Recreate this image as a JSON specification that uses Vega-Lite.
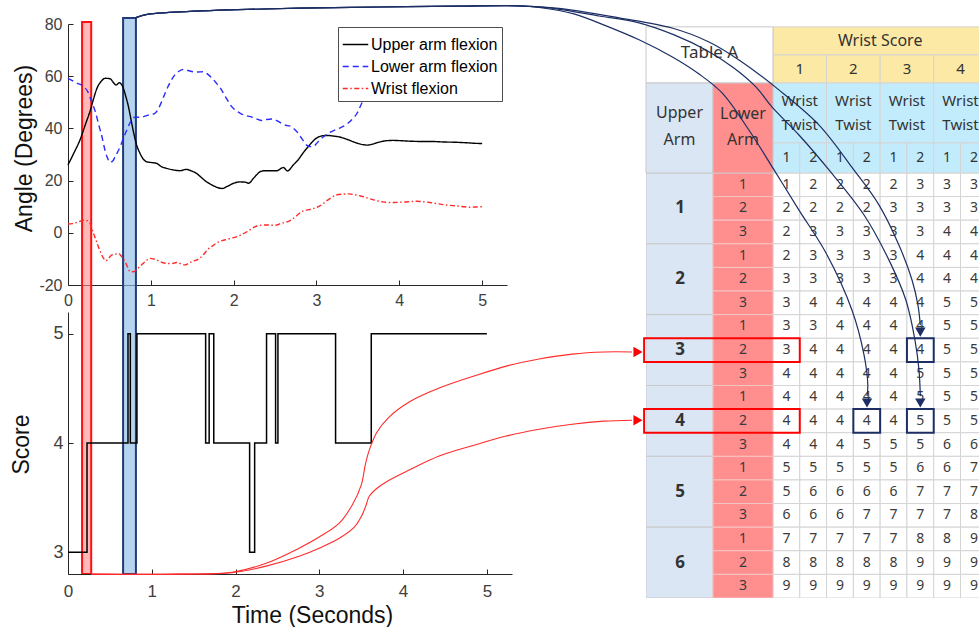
{
  "$schema": "https://vega.github.io/schema/vega-lite/v6.json",
  "background": "#ffffff",
  "padding": {"left": 10, "top": 3, "right": 0, "bottom": 0},
  "config": {
    "view": {"stroke": null},
    "font": "Liberation Sans",
    "axis": {
      "grid": false,
      "labelFont": "Liberation Sans",
      "titleFont": "Liberation Sans",
      "domainColor": "#262626",
      "tickColor": "#262626",
      "labelColor": "#404040",
      "titleColor": "#111111",
      "titleFontWeight": "normal",
      "tickSize": -5,
      "labelFlush": false
    }
  },
  "datasets": {
    "angles": [
      {"s":"Upper arm flexion","t":0,"a":26},{"s":"Upper arm flexion","t":0.07,"a":30.5},{"s":"Upper arm flexion","t":0.145,"a":35.6},{"s":"Upper arm flexion","t":0.21,"a":41.5},{"s":"Upper arm flexion","t":0.27,"a":47},{"s":"Upper arm flexion","t":0.31,"a":51.5},{"s":"Upper arm flexion","t":0.35,"a":55.4},{"s":"Upper arm flexion","t":0.4,"a":58},{"s":"Upper arm flexion","t":0.45,"a":59.2},{"s":"Upper arm flexion","t":0.51,"a":59},{"s":"Upper arm flexion","t":0.55,"a":57.5},{"s":"Upper arm flexion","t":0.58,"a":56.6},{"s":"Upper arm flexion","t":0.62,"a":57.5},{"s":"Upper arm flexion","t":0.66,"a":56},{"s":"Upper arm flexion","t":0.7,"a":52},{"s":"Upper arm flexion","t":0.73,"a":48.3},{"s":"Upper arm flexion","t":0.76,"a":43.5},{"s":"Upper arm flexion","t":0.79,"a":38.7},{"s":"Upper arm flexion","t":0.83,"a":33.5},{"s":"Upper arm flexion","t":0.87,"a":30.4},{"s":"Upper arm flexion","t":0.91,"a":28.2},{"s":"Upper arm flexion","t":0.95,"a":27.2},{"s":"Upper arm flexion","t":1.01,"a":26.9},{"s":"Upper arm flexion","t":1.07,"a":26.6},{"s":"Upper arm flexion","t":1.13,"a":25.3},{"s":"Upper arm flexion","t":1.19,"a":24.7},{"s":"Upper arm flexion","t":1.27,"a":24.1},{"s":"Upper arm flexion","t":1.35,"a":23.8},{"s":"Upper arm flexion","t":1.43,"a":24.3},{"s":"Upper arm flexion","t":1.49,"a":23.7},{"s":"Upper arm flexion","t":1.55,"a":22.8},{"s":"Upper arm flexion","t":1.61,"a":21.2},{"s":"Upper arm flexion","t":1.67,"a":19.6},{"s":"Upper arm flexion","t":1.74,"a":18.3},{"s":"Upper arm flexion","t":1.8,"a":17.4},{"s":"Upper arm flexion","t":1.86,"a":17},{"s":"Upper arm flexion","t":1.93,"a":17.9},{"s":"Upper arm flexion","t":2,"a":19},{"s":"Upper arm flexion","t":2.08,"a":19.5},{"s":"Upper arm flexion","t":2.14,"a":19.4},{"s":"Upper arm flexion","t":2.18,"a":19},{"s":"Upper arm flexion","t":2.24,"a":20.9},{"s":"Upper arm flexion","t":2.28,"a":22.3},{"s":"Upper arm flexion","t":2.32,"a":23.4},{"s":"Upper arm flexion","t":2.38,"a":23.8},{"s":"Upper arm flexion","t":2.44,"a":23.8},{"s":"Upper arm flexion","t":2.52,"a":23.8},{"s":"Upper arm flexion","t":2.6,"a":25},{"s":"Upper arm flexion","t":2.65,"a":23.7},{"s":"Upper arm flexion","t":2.72,"a":26},{"s":"Upper arm flexion","t":2.78,"a":28},{"s":"Upper arm flexion","t":2.82,"a":29.8},{"s":"Upper arm flexion","t":2.86,"a":31.5},{"s":"Upper arm flexion","t":2.9,"a":33},{"s":"Upper arm flexion","t":2.94,"a":34.5},{"s":"Upper arm flexion","t":2.98,"a":35.8},{"s":"Upper arm flexion","t":3.06,"a":37.1},{"s":"Upper arm flexion","t":3.13,"a":37.3},{"s":"Upper arm flexion","t":3.2,"a":37.1},{"s":"Upper arm flexion","t":3.28,"a":36.7},{"s":"Upper arm flexion","t":3.37,"a":35.8},{"s":"Upper arm flexion","t":3.45,"a":34.8},{"s":"Upper arm flexion","t":3.53,"a":34},{"s":"Upper arm flexion","t":3.61,"a":33.6},{"s":"Upper arm flexion","t":3.67,"a":33.9},{"s":"Upper arm flexion","t":3.73,"a":34.5},{"s":"Upper arm flexion","t":3.79,"a":35},{"s":"Upper arm flexion","t":3.85,"a":35.3},{"s":"Upper arm flexion","t":3.93,"a":35.4},{"s":"Upper arm flexion","t":4.01,"a":35.3},{"s":"Upper arm flexion","t":4.13,"a":35.1},{"s":"Upper arm flexion","t":4.25,"a":35},{"s":"Upper arm flexion","t":4.39,"a":35},{"s":"Upper arm flexion","t":4.53,"a":34.8},{"s":"Upper arm flexion","t":4.67,"a":34.7},{"s":"Upper arm flexion","t":4.81,"a":34.5},{"s":"Upper arm flexion","t":4.91,"a":34.3},{"s":"Upper arm flexion","t":5,"a":34.2},
      {"s":"Lower arm flexion","t":0,"a":59.2},{"s":"Lower arm flexion","t":0.1,"a":57.5},{"s":"Lower arm flexion","t":0.2,"a":55.7},{"s":"Lower arm flexion","t":0.24,"a":54},{"s":"Lower arm flexion","t":0.27,"a":51.5},{"s":"Lower arm flexion","t":0.3,"a":49},{"s":"Lower arm flexion","t":0.33,"a":46.4},{"s":"Lower arm flexion","t":0.37,"a":41.5},{"s":"Lower arm flexion","t":0.41,"a":36.8},{"s":"Lower arm flexion","t":0.44,"a":32.5},{"s":"Lower arm flexion","t":0.47,"a":29.2},{"s":"Lower arm flexion","t":0.51,"a":27},{"s":"Lower arm flexion","t":0.54,"a":27.5},{"s":"Lower arm flexion","t":0.57,"a":29.2},{"s":"Lower arm flexion","t":0.6,"a":31},{"s":"Lower arm flexion","t":0.63,"a":33},{"s":"Lower arm flexion","t":0.67,"a":36.3},{"s":"Lower arm flexion","t":0.71,"a":39.4},{"s":"Lower arm flexion","t":0.75,"a":42.2},{"s":"Lower arm flexion","t":0.79,"a":44.2},{"s":"Lower arm flexion","t":0.83,"a":44.3},{"s":"Lower arm flexion","t":0.87,"a":44.2},{"s":"Lower arm flexion","t":0.92,"a":44.6},{"s":"Lower arm flexion","t":0.97,"a":45.1},{"s":"Lower arm flexion","t":1.01,"a":45.3},{"s":"Lower arm flexion","t":1.05,"a":45.8},{"s":"Lower arm flexion","t":1.09,"a":47.5},{"s":"Lower arm flexion","t":1.13,"a":50.2},{"s":"Lower arm flexion","t":1.17,"a":53.3},{"s":"Lower arm flexion","t":1.21,"a":56.2},{"s":"Lower arm flexion","t":1.25,"a":58.6},{"s":"Lower arm flexion","t":1.29,"a":60.5},{"s":"Lower arm flexion","t":1.34,"a":61.9},{"s":"Lower arm flexion","t":1.39,"a":62.6},{"s":"Lower arm flexion","t":1.45,"a":62.2},{"s":"Lower arm flexion","t":1.51,"a":61.7},{"s":"Lower arm flexion","t":1.57,"a":61.6},{"s":"Lower arm flexion","t":1.63,"a":61.7},{"s":"Lower arm flexion","t":1.69,"a":60.7},{"s":"Lower arm flexion","t":1.74,"a":59.2},{"s":"Lower arm flexion","t":1.79,"a":57.4},{"s":"Lower arm flexion","t":1.84,"a":55.4},{"s":"Lower arm flexion","t":1.9,"a":52.2},{"s":"Lower arm flexion","t":1.96,"a":49},{"s":"Lower arm flexion","t":2.02,"a":47},{"s":"Lower arm flexion","t":2.08,"a":45.8},{"s":"Lower arm flexion","t":2.14,"a":45},{"s":"Lower arm flexion","t":2.2,"a":44.5},{"s":"Lower arm flexion","t":2.27,"a":43.7},{"s":"Lower arm flexion","t":2.34,"a":43},{"s":"Lower arm flexion","t":2.4,"a":43.4},{"s":"Lower arm flexion","t":2.46,"a":43.6},{"s":"Lower arm flexion","t":2.52,"a":43},{"s":"Lower arm flexion","t":2.58,"a":41.9},{"s":"Lower arm flexion","t":2.63,"a":41.2},{"s":"Lower arm flexion","t":2.68,"a":40.9},{"s":"Lower arm flexion","t":2.73,"a":39.8},{"s":"Lower arm flexion","t":2.78,"a":38.1},{"s":"Lower arm flexion","t":2.83,"a":35.8},{"s":"Lower arm flexion","t":2.88,"a":33.6},{"s":"Lower arm flexion","t":2.92,"a":33},{"s":"Lower arm flexion","t":2.96,"a":33},{"s":"Lower arm flexion","t":3,"a":34.2},{"s":"Lower arm flexion","t":3.04,"a":35.6},{"s":"Lower arm flexion","t":3.09,"a":36.9},{"s":"Lower arm flexion","t":3.14,"a":38.1},{"s":"Lower arm flexion","t":3.19,"a":38.9},{"s":"Lower arm flexion","t":3.24,"a":39.6},{"s":"Lower arm flexion","t":3.3,"a":40.4},{"s":"Lower arm flexion","t":3.37,"a":41.7},{"s":"Lower arm flexion","t":3.43,"a":43.5},{"s":"Lower arm flexion","t":3.49,"a":45.8},{"s":"Lower arm flexion","t":3.53,"a":48.5},{"s":"Lower arm flexion","t":3.57,"a":51.5},{"s":"Lower arm flexion","t":3.61,"a":55},{"s":"Lower arm flexion","t":3.65,"a":59},
      {"s":"Wrist flexion","t":0,"a":3.4},{"s":"Wrist flexion","t":0.05,"a":3.5},{"s":"Wrist flexion","t":0.1,"a":3.9},{"s":"Wrist flexion","t":0.15,"a":4.5},{"s":"Wrist flexion","t":0.2,"a":4.9},{"s":"Wrist flexion","t":0.24,"a":4.5},{"s":"Wrist flexion","t":0.27,"a":3.4},{"s":"Wrist flexion","t":0.3,"a":0.5},{"s":"Wrist flexion","t":0.33,"a":-2.1},{"s":"Wrist flexion","t":0.36,"a":-4.8},{"s":"Wrist flexion","t":0.39,"a":-7.2},{"s":"Wrist flexion","t":0.43,"a":-9.8},{"s":"Wrist flexion","t":0.46,"a":-10.7},{"s":"Wrist flexion","t":0.49,"a":-9.8},{"s":"Wrist flexion","t":0.53,"a":-8.5},{"s":"Wrist flexion","t":0.57,"a":-8.2},{"s":"Wrist flexion","t":0.61,"a":-7.9},{"s":"Wrist flexion","t":0.65,"a":-9.2},{"s":"Wrist flexion","t":0.69,"a":-11.1},{"s":"Wrist flexion","t":0.72,"a":-13.2},{"s":"Wrist flexion","t":0.75,"a":-14.9},{"s":"Wrist flexion","t":0.79,"a":-14.9},{"s":"Wrist flexion","t":0.83,"a":-14},{"s":"Wrist flexion","t":0.87,"a":-12.8},{"s":"Wrist flexion","t":0.91,"a":-11.7},{"s":"Wrist flexion","t":0.95,"a":-10.5},{"s":"Wrist flexion","t":0.99,"a":-9.8},{"s":"Wrist flexion","t":1.04,"a":-10.1},{"s":"Wrist flexion","t":1.09,"a":-10.7},{"s":"Wrist flexion","t":1.14,"a":-11.4},{"s":"Wrist flexion","t":1.19,"a":-11.7},{"s":"Wrist flexion","t":1.25,"a":-11.8},{"s":"Wrist flexion","t":1.31,"a":-11.4},{"s":"Wrist flexion","t":1.36,"a":-11.8},{"s":"Wrist flexion","t":1.41,"a":-12.3},{"s":"Wrist flexion","t":1.45,"a":-11.8},{"s":"Wrist flexion","t":1.49,"a":-11.1},{"s":"Wrist flexion","t":1.54,"a":-10.6},{"s":"Wrist flexion","t":1.59,"a":-9.8},{"s":"Wrist flexion","t":1.64,"a":-8.2},{"s":"Wrist flexion","t":1.69,"a":-6.3},{"s":"Wrist flexion","t":1.75,"a":-4.9},{"s":"Wrist flexion","t":1.8,"a":-3.8},{"s":"Wrist flexion","t":1.86,"a":-3},{"s":"Wrist flexion","t":1.92,"a":-2.5},{"s":"Wrist flexion","t":1.98,"a":-2},{"s":"Wrist flexion","t":2.04,"a":-1.5},{"s":"Wrist flexion","t":2.1,"a":-0.6},{"s":"Wrist flexion","t":2.16,"a":0.4},{"s":"Wrist flexion","t":2.22,"a":1.6},{"s":"Wrist flexion","t":2.28,"a":2.6},{"s":"Wrist flexion","t":2.34,"a":2.9},{"s":"Wrist flexion","t":2.4,"a":3},{"s":"Wrist flexion","t":2.46,"a":2.9},{"s":"Wrist flexion","t":2.52,"a":3},{"s":"Wrist flexion","t":2.57,"a":3.6},{"s":"Wrist flexion","t":2.62,"a":4},{"s":"Wrist flexion","t":2.67,"a":4.5},{"s":"Wrist flexion","t":2.72,"a":5.5},{"s":"Wrist flexion","t":2.77,"a":6.8},{"s":"Wrist flexion","t":2.82,"a":8.1},{"s":"Wrist flexion","t":2.88,"a":8.7},{"s":"Wrist flexion","t":2.94,"a":9.1},{"s":"Wrist flexion","t":2.99,"a":9.6},{"s":"Wrist flexion","t":3.04,"a":10.3},{"s":"Wrist flexion","t":3.09,"a":11.4},{"s":"Wrist flexion","t":3.14,"a":12.6},{"s":"Wrist flexion","t":3.19,"a":13.7},{"s":"Wrist flexion","t":3.24,"a":14.5},{"s":"Wrist flexion","t":3.31,"a":14.8},{"s":"Wrist flexion","t":3.39,"a":14.9},{"s":"Wrist flexion","t":3.46,"a":14.6},{"s":"Wrist flexion","t":3.53,"a":14.1},{"s":"Wrist flexion","t":3.59,"a":13.6},{"s":"Wrist flexion","t":3.65,"a":13},{"s":"Wrist flexion","t":3.72,"a":12.4},{"s":"Wrist flexion","t":3.79,"a":11.9},{"s":"Wrist flexion","t":3.86,"a":11.6},{"s":"Wrist flexion","t":3.93,"a":11.6},{"s":"Wrist flexion","t":4,"a":11.7},{"s":"Wrist flexion","t":4.07,"a":11.8},{"s":"Wrist flexion","t":4.14,"a":12},{"s":"Wrist flexion","t":4.21,"a":12.1},{"s":"Wrist flexion","t":4.29,"a":11.9},{"s":"Wrist flexion","t":4.37,"a":11.6},{"s":"Wrist flexion","t":4.45,"a":11.2},{"s":"Wrist flexion","t":4.53,"a":10.8},{"s":"Wrist flexion","t":4.61,"a":10.5},{"s":"Wrist flexion","t":4.69,"a":10.3},{"s":"Wrist flexion","t":4.77,"a":10},{"s":"Wrist flexion","t":4.86,"a":9.8},{"s":"Wrist flexion","t":4.93,"a":9.9},{"s":"Wrist flexion","t":5,"a":10}
    ],
    "score": [
      {"t":0,"score":3},{"t":0.227,"score":4},{"t":0.716,"score":5},{"t":0.744,"score":4},{"t":0.823,"score":5},{"t":1.643,"score":4},{"t":1.685,"score":5},{"t":1.74,"score":4},{"t":2.168,"score":3},{"t":2.228,"score":4},{"t":2.37,"score":5},{"t":2.478,"score":4},{"t":2.506,"score":5},{"t":3.194,"score":4},{"t":3.62,"score":5},{"t":5,"score":5}
    ],
    "windows": [
      {"win":"A","t0":0.17,"t1":0.28},
      {"win":"B","t0":0.665,"t1":0.82}
    ],
    "cells": [
      {"ua":1,"la":1,"ws":1,"wt":1,"s":1},{"ua":1,"la":1,"ws":1,"wt":2,"s":2},{"ua":1,"la":1,"ws":2,"wt":1,"s":2},{"ua":1,"la":1,"ws":2,"wt":2,"s":2},{"ua":1,"la":1,"ws":3,"wt":1,"s":2},{"ua":1,"la":1,"ws":3,"wt":2,"s":3},{"ua":1,"la":1,"ws":4,"wt":1,"s":3},{"ua":1,"la":1,"ws":4,"wt":2,"s":3},
      {"ua":1,"la":2,"ws":1,"wt":1,"s":2},{"ua":1,"la":2,"ws":1,"wt":2,"s":2},{"ua":1,"la":2,"ws":2,"wt":1,"s":2},{"ua":1,"la":2,"ws":2,"wt":2,"s":2},{"ua":1,"la":2,"ws":3,"wt":1,"s":3},{"ua":1,"la":2,"ws":3,"wt":2,"s":3},{"ua":1,"la":2,"ws":4,"wt":1,"s":3},{"ua":1,"la":2,"ws":4,"wt":2,"s":3},
      {"ua":1,"la":3,"ws":1,"wt":1,"s":2},{"ua":1,"la":3,"ws":1,"wt":2,"s":3},{"ua":1,"la":3,"ws":2,"wt":1,"s":3},{"ua":1,"la":3,"ws":2,"wt":2,"s":3},{"ua":1,"la":3,"ws":3,"wt":1,"s":3},{"ua":1,"la":3,"ws":3,"wt":2,"s":3},{"ua":1,"la":3,"ws":4,"wt":1,"s":4},{"ua":1,"la":3,"ws":4,"wt":2,"s":4},
      {"ua":2,"la":1,"ws":1,"wt":1,"s":2},{"ua":2,"la":1,"ws":1,"wt":2,"s":3},{"ua":2,"la":1,"ws":2,"wt":1,"s":3},{"ua":2,"la":1,"ws":2,"wt":2,"s":3},{"ua":2,"la":1,"ws":3,"wt":1,"s":3},{"ua":2,"la":1,"ws":3,"wt":2,"s":4},{"ua":2,"la":1,"ws":4,"wt":1,"s":4},{"ua":2,"la":1,"ws":4,"wt":2,"s":4},
      {"ua":2,"la":2,"ws":1,"wt":1,"s":3},{"ua":2,"la":2,"ws":1,"wt":2,"s":3},{"ua":2,"la":2,"ws":2,"wt":1,"s":3},{"ua":2,"la":2,"ws":2,"wt":2,"s":3},{"ua":2,"la":2,"ws":3,"wt":1,"s":3},{"ua":2,"la":2,"ws":3,"wt":2,"s":4},{"ua":2,"la":2,"ws":4,"wt":1,"s":4},{"ua":2,"la":2,"ws":4,"wt":2,"s":4},
      {"ua":2,"la":3,"ws":1,"wt":1,"s":3},{"ua":2,"la":3,"ws":1,"wt":2,"s":4},{"ua":2,"la":3,"ws":2,"wt":1,"s":4},{"ua":2,"la":3,"ws":2,"wt":2,"s":4},{"ua":2,"la":3,"ws":3,"wt":1,"s":4},{"ua":2,"la":3,"ws":3,"wt":2,"s":4},{"ua":2,"la":3,"ws":4,"wt":1,"s":5},{"ua":2,"la":3,"ws":4,"wt":2,"s":5},
      {"ua":3,"la":1,"ws":1,"wt":1,"s":3},{"ua":3,"la":1,"ws":1,"wt":2,"s":3},{"ua":3,"la":1,"ws":2,"wt":1,"s":4},{"ua":3,"la":1,"ws":2,"wt":2,"s":4},{"ua":3,"la":1,"ws":3,"wt":1,"s":4},{"ua":3,"la":1,"ws":3,"wt":2,"s":4},{"ua":3,"la":1,"ws":4,"wt":1,"s":5},{"ua":3,"la":1,"ws":4,"wt":2,"s":5},
      {"ua":3,"la":2,"ws":1,"wt":1,"s":3},{"ua":3,"la":2,"ws":1,"wt":2,"s":4},{"ua":3,"la":2,"ws":2,"wt":1,"s":4},{"ua":3,"la":2,"ws":2,"wt":2,"s":4},{"ua":3,"la":2,"ws":3,"wt":1,"s":4},{"ua":3,"la":2,"ws":3,"wt":2,"s":4},{"ua":3,"la":2,"ws":4,"wt":1,"s":5},{"ua":3,"la":2,"ws":4,"wt":2,"s":5},
      {"ua":3,"la":3,"ws":1,"wt":1,"s":4},{"ua":3,"la":3,"ws":1,"wt":2,"s":4},{"ua":3,"la":3,"ws":2,"wt":1,"s":4},{"ua":3,"la":3,"ws":2,"wt":2,"s":4},{"ua":3,"la":3,"ws":3,"wt":1,"s":4},{"ua":3,"la":3,"ws":3,"wt":2,"s":5},{"ua":3,"la":3,"ws":4,"wt":1,"s":5},{"ua":3,"la":3,"ws":4,"wt":2,"s":5},
      {"ua":4,"la":1,"ws":1,"wt":1,"s":4},{"ua":4,"la":1,"ws":1,"wt":2,"s":4},{"ua":4,"la":1,"ws":2,"wt":1,"s":4},{"ua":4,"la":1,"ws":2,"wt":2,"s":4},{"ua":4,"la":1,"ws":3,"wt":1,"s":4},{"ua":4,"la":1,"ws":3,"wt":2,"s":5},{"ua":4,"la":1,"ws":4,"wt":1,"s":5},{"ua":4,"la":1,"ws":4,"wt":2,"s":5},
      {"ua":4,"la":2,"ws":1,"wt":1,"s":4},{"ua":4,"la":2,"ws":1,"wt":2,"s":4},{"ua":4,"la":2,"ws":2,"wt":1,"s":4},{"ua":4,"la":2,"ws":2,"wt":2,"s":4},{"ua":4,"la":2,"ws":3,"wt":1,"s":4},{"ua":4,"la":2,"ws":3,"wt":2,"s":5},{"ua":4,"la":2,"ws":4,"wt":1,"s":5},{"ua":4,"la":2,"ws":4,"wt":2,"s":5},
      {"ua":4,"la":3,"ws":1,"wt":1,"s":4},{"ua":4,"la":3,"ws":1,"wt":2,"s":4},{"ua":4,"la":3,"ws":2,"wt":1,"s":4},{"ua":4,"la":3,"ws":2,"wt":2,"s":5},{"ua":4,"la":3,"ws":3,"wt":1,"s":5},{"ua":4,"la":3,"ws":3,"wt":2,"s":5},{"ua":4,"la":3,"ws":4,"wt":1,"s":6},{"ua":4,"la":3,"ws":4,"wt":2,"s":6},
      {"ua":5,"la":1,"ws":1,"wt":1,"s":5},{"ua":5,"la":1,"ws":1,"wt":2,"s":5},{"ua":5,"la":1,"ws":2,"wt":1,"s":5},{"ua":5,"la":1,"ws":2,"wt":2,"s":5},{"ua":5,"la":1,"ws":3,"wt":1,"s":5},{"ua":5,"la":1,"ws":3,"wt":2,"s":6},{"ua":5,"la":1,"ws":4,"wt":1,"s":6},{"ua":5,"la":1,"ws":4,"wt":2,"s":7},
      {"ua":5,"la":2,"ws":1,"wt":1,"s":5},{"ua":5,"la":2,"ws":1,"wt":2,"s":6},{"ua":5,"la":2,"ws":2,"wt":1,"s":6},{"ua":5,"la":2,"ws":2,"wt":2,"s":6},{"ua":5,"la":2,"ws":3,"wt":1,"s":6},{"ua":5,"la":2,"ws":3,"wt":2,"s":7},{"ua":5,"la":2,"ws":4,"wt":1,"s":7},{"ua":5,"la":2,"ws":4,"wt":2,"s":7},
      {"ua":5,"la":3,"ws":1,"wt":1,"s":6},{"ua":5,"la":3,"ws":1,"wt":2,"s":6},{"ua":5,"la":3,"ws":2,"wt":1,"s":6},{"ua":5,"la":3,"ws":2,"wt":2,"s":7},{"ua":5,"la":3,"ws":3,"wt":1,"s":7},{"ua":5,"la":3,"ws":3,"wt":2,"s":7},{"ua":5,"la":3,"ws":4,"wt":1,"s":7},{"ua":5,"la":3,"ws":4,"wt":2,"s":8},
      {"ua":6,"la":1,"ws":1,"wt":1,"s":7},{"ua":6,"la":1,"ws":1,"wt":2,"s":7},{"ua":6,"la":1,"ws":2,"wt":1,"s":7},{"ua":6,"la":1,"ws":2,"wt":2,"s":7},{"ua":6,"la":1,"ws":3,"wt":1,"s":7},{"ua":6,"la":1,"ws":3,"wt":2,"s":8},{"ua":6,"la":1,"ws":4,"wt":1,"s":8},{"ua":6,"la":1,"ws":4,"wt":2,"s":9},
      {"ua":6,"la":2,"ws":1,"wt":1,"s":8},{"ua":6,"la":2,"ws":1,"wt":2,"s":8},{"ua":6,"la":2,"ws":2,"wt":1,"s":8},{"ua":6,"la":2,"ws":2,"wt":2,"s":8},{"ua":6,"la":2,"ws":3,"wt":1,"s":8},{"ua":6,"la":2,"ws":3,"wt":2,"s":9},{"ua":6,"la":2,"ws":4,"wt":1,"s":9},{"ua":6,"la":2,"ws":4,"wt":2,"s":9},
      {"ua":6,"la":3,"ws":1,"wt":1,"s":9},{"ua":6,"la":3,"ws":1,"wt":2,"s":9},{"ua":6,"la":3,"ws":2,"wt":1,"s":9},{"ua":6,"la":3,"ws":2,"wt":2,"s":9},{"ua":6,"la":3,"ws":3,"wt":1,"s":9},{"ua":6,"la":3,"ws":3,"wt":2,"s":9},{"ua":6,"la":3,"ws":4,"wt":1,"s":9},{"ua":6,"la":3,"ws":4,"wt":2,"s":9}
    ],
    "rowHits": [
      {"ua":3,"la":2},{"ua":4,"la":2}
    ],
    "cellHits": [
      {"ua":3,"la":2,"ws":3,"wt":2},{"ua":4,"la":2,"ws":2,"wt":2},{"ua":4,"la":2,"ws":3,"wt":2}
    ],
    "links": [
      {"from":"B","link":"b1","i":0,"u":-23.81,"v":-6.57},{"from":"B","link":"b1","i":1,"u":-23.36,"v":-6.72},{"from":"B","link":"b1","i":2,"u":-22.54,"v":-6.8},{"from":"B","link":"b1","i":3,"u":-20.3,"v":-6.91},{"from":"B","link":"b1","i":4,"u":-17.69,"v":-6.98},{"from":"B","link":"b1","i":5,"u":-14.7,"v":-7.03},{"from":"B","link":"b1","i":6,"u":-11.72,"v":-7.07},{"from":"B","link":"b1","i":7,"u":-9.48,"v":-7.08},{"from":"B","link":"b1","i":8,"u":-8.73,"v":-7.01},{"from":"B","link":"b1","i":9,"u":-7.43,"v":-6.74},{"from":"B","link":"b1","i":10,"u":-6.23,"v":-6.23},{"from":"B","link":"b1","i":11,"u":-5,"v":-5.64},{"from":"B","link":"b1","i":12,"u":-3.77,"v":-4.92},{"from":"B","link":"b1","i":13,"u":-2.76,"v":-4.19},{"from":"B","link":"b1","i":14,"u":-1.9,"v":-3.39},{"from":"B","link":"b1","i":15,"u":-0.9,"v":-1.82},{"from":"B","link":"b1","i":16,"u":0.04,"v":-0.13},{"from":"B","link":"b1","i":17,"u":0.97,"v":1.57},{"from":"B","link":"b1","i":18,"u":1.98,"v":3.39},{"from":"B","link":"b1","i":19,"u":2.95,"v":5.81},{"from":"B","link":"b1","i":20,"u":3.4,"v":7.71},{"from":"B","link":"b1","i":21,"u":3.54,"v":8.98},{"from":"B","link":"b1","i":22,"u":3.51,"v":9.45},
      {"from":"B","link":"b2","i":0,"u":-23.81,"v":-6.57},{"from":"B","link":"b2","i":1,"u":-23.36,"v":-6.72},{"from":"B","link":"b2","i":2,"u":-22.54,"v":-6.8},{"from":"B","link":"b2","i":3,"u":-20.3,"v":-6.91},{"from":"B","link":"b2","i":4,"u":-17.69,"v":-6.98},{"from":"B","link":"b2","i":5,"u":-14.7,"v":-7.03},{"from":"B","link":"b2","i":6,"u":-11.72,"v":-7.07},{"from":"B","link":"b2","i":7,"u":-9.48,"v":-7.08},{"from":"B","link":"b2","i":8,"u":-8.36,"v":-6.99},{"from":"B","link":"b2","i":9,"u":-6.49,"v":-6.65},{"from":"B","link":"b2","i":10,"u":-5,"v":-6.36},{"from":"B","link":"b2","i":11,"u":-3.69,"v":-5.85},{"from":"B","link":"b2","i":12,"u":-2.5,"v":-5.21},{"from":"B","link":"b2","i":13,"u":-1.46,"v":-4.45},{"from":"B","link":"b2","i":14,"u":-0.63,"v":-3.64},{"from":"B","link":"b2","i":15,"u":-0.04,"v":-2.8},{"from":"B","link":"b2","i":16,"u":0.97,"v":-1.61},{"from":"B","link":"b2","i":17,"u":2.09,"v":-0.13},{"from":"B","link":"b2","i":18,"u":3.4,"v":1.78},{"from":"B","link":"b2","i":19,"u":4.33,"v":3.69},{"from":"B","link":"b2","i":20,"u":4.96,"v":5.38},{"from":"B","link":"b2","i":21,"u":5.3,"v":7.08},{"from":"B","link":"b2","i":22,"u":5.45,"v":8.35},{"from":"B","link":"b2","i":23,"u":5.5,"v":9.45},
      {"from":"B","link":"b3","i":0,"u":-23.81,"v":-6.57},{"from":"B","link":"b3","i":1,"u":-23.36,"v":-6.72},{"from":"B","link":"b3","i":2,"u":-22.54,"v":-6.8},{"from":"B","link":"b3","i":3,"u":-20.3,"v":-6.91},{"from":"B","link":"b3","i":4,"u":-17.69,"v":-6.98},{"from":"B","link":"b3","i":5,"u":-14.7,"v":-7.03},{"from":"B","link":"b3","i":6,"u":-11.72,"v":-7.07},{"from":"B","link":"b3","i":7,"u":-9.48,"v":-7.08},{"from":"B","link":"b3","i":8,"u":-7.99,"v":-6.97},{"from":"B","link":"b3","i":9,"u":-5.75,"v":-6.57},{"from":"B","link":"b3","i":10,"u":-3.77,"v":-6.14},{"from":"B","link":"b3","i":11,"u":-2.39,"v":-5.55},{"from":"B","link":"b3","i":12,"u":-1.27,"v":-4.79},{"from":"B","link":"b3","i":13,"u":0.22,"v":-3.52},{"from":"B","link":"b3","i":14,"u":1.72,"v":-2.03},{"from":"B","link":"b3","i":15,"u":3.02,"v":-0.13},{"from":"B","link":"b3","i":16,"u":3.96,"v":1.36},{"from":"B","link":"b3","i":17,"u":4.7,"v":3.05},{"from":"B","link":"b3","i":18,"u":5.19,"v":4.53},{"from":"B","link":"b3","i":19,"u":5.41,"v":5.59},{"from":"B","link":"b3","i":20,"u":5.5,"v":6.45},
      {"from":"A","link":"a1","i":0,"u":-25.45,"v":16.99},{"from":"A","link":"a1","i":1,"u":-22.16,"v":16.99},{"from":"A","link":"a1","i":2,"u":-20.19,"v":16.91},{"from":"A","link":"a1","i":3,"u":-18.92,"v":16.53},{"from":"A","link":"a1","i":4,"u":-17.69,"v":15.89},{"from":"A","link":"a1","i":5,"u":-16.94,"v":15.42},{"from":"A","link":"a1","i":6,"u":-16.19,"v":14.83},{"from":"A","link":"a1","i":7,"u":-15.71,"v":14.07},{"from":"A","link":"a1","i":8,"u":-15.37,"v":13.22},{"from":"A","link":"a1","i":9,"u":-15.22,"v":12.37},{"from":"A","link":"a1","i":10,"u":-15.07,"v":11.74},{"from":"A","link":"a1","i":11,"u":-14.78,"v":10.97},{"from":"A","link":"a1","i":12,"u":-14.33,"v":10.34},{"from":"A","link":"a1","i":13,"u":-13.58,"v":9.7},{"from":"A","link":"a1","i":14,"u":-12.46,"v":9.11},{"from":"A","link":"a1","i":15,"u":-11.16,"v":8.6},{"from":"A","link":"a1","i":16,"u":-9.96,"v":8.18},{"from":"A","link":"a1","i":17,"u":-8.73,"v":7.88},{"from":"A","link":"a1","i":18,"u":-7.5,"v":7.67},{"from":"A","link":"a1","i":19,"u":-6.31,"v":7.58},{"from":"A","link":"a1","i":20,"u":-5.26,"v":7.58},
      {"from":"A","link":"a2","i":0,"u":-25.45,"v":16.99},{"from":"A","link":"a2","i":1,"u":-22.16,"v":16.99},{"from":"A","link":"a2","i":2,"u":-20.19,"v":16.93},{"from":"A","link":"a2","i":3,"u":-18.92,"v":16.65},{"from":"A","link":"a2","i":4,"u":-17.69,"v":16.23},{"from":"A","link":"a2","i":5,"u":-16.94,"v":15.89},{"from":"A","link":"a2","i":6,"u":-16.19,"v":15.47},{"from":"A","link":"a2","i":7,"u":-15.63,"v":15},{"from":"A","link":"a2","i":8,"u":-15.34,"v":14.49},{"from":"A","link":"a2","i":9,"u":-15.19,"v":14.07},{"from":"A","link":"a2","i":10,"u":-15.07,"v":13.69},{"from":"A","link":"a2","i":11,"u":-14.78,"v":13.35},{"from":"A","link":"a2","i":12,"u":-14.33,"v":13.01},{"from":"A","link":"a2","i":13,"u":-13.58,"v":12.58},{"from":"A","link":"a2","i":14,"u":-12.46,"v":11.99},{"from":"A","link":"a2","i":15,"u":-11.16,"v":11.53},{"from":"A","link":"a2","i":16,"u":-9.96,"v":11.14},{"from":"A","link":"a2","i":17,"u":-8.73,"v":10.85},{"from":"A","link":"a2","i":18,"u":-7.5,"v":10.64},{"from":"A","link":"a2","i":19,"u":-6.31,"v":10.51},{"from":"A","link":"a2","i":20,"u":-5.26,"v":10.47}
    ],
    "tips": [
      {"from":"A","link":"a1","u":-5.04,"v":7.58},{"from":"A","link":"a2","u":-5.04,"v":10.47},
      {"from":"B","link":"b1","u":3.51,"v":9.74},{"from":"B","link":"b2","u":5.5,"v":9.74},{"from":"B","link":"b3","u":5.5,"v":6.74}
    ]
  },
  "spacing": 578,
  "bounds": "flush",
  "hconcat": [
    {
      "spacing": 27,
      "bounds": "flush",
      "vconcat": [
        {
          "width": 439,
          "height": 261,
          "layer": [
            {
              "data": {"name": "windows"},
              "transform": [{"filter": "datum.win === 'A'"}],
              "mark": {"type": "rect", "clip": false, "fill": "#ff8a8a", "fillOpacity": 0.6, "stroke": "#ff1010", "strokeWidth": 2},
              "encoding": {
                "x": {"field": "t0", "type": "quantitative", "scale": {"domain": [0, 5.3], "nice": false, "zero": false}, "axis": {"values": [0, 1, 2, 3, 4, 5], "title": null, "labelPadding": 12, "labelFontSize": 16}},
                "x2": {"field": "t1"},
                "y": {"datum": 80.8, "type": "quantitative", "scale": {"domain": [-20, 80], "nice": false, "zero": false}, "axis": {"values": [-20, 0, 20, 40, 60, 80], "labelExpr": "'' + datum.value", "title": "Angle (Degrees)", "labelPadding": 11, "labelFontSize": 16, "titleFontSize": 23, "titleX": -44, "titleY": 124, "titleAngle": 270, "titleAlign": "center", "titleBaseline": "middle"}},
                "y2": {"datum": -130.7}
              }
            },
            {
              "data": {"name": "windows"},
              "transform": [{"filter": "datum.win === 'B'"}],
              "mark": {"type": "rect", "clip": false, "fill": "#8fbde6", "fillOpacity": 0.65, "stroke": "#1f3b7a", "strokeWidth": 2},
              "encoding": {
                "x": {"field": "t0", "type": "quantitative", "scale": {"domain": [0, 5.3], "nice": false, "zero": false}, "axis": {"values": [0, 1, 2, 3, 4, 5], "title": null, "labelPadding": 12, "labelFontSize": 16}},
                "x2": {"field": "t1"},
                "y": {"datum": 82.3, "type": "quantitative", "scale": {"domain": [-20, 80], "nice": false, "zero": false}, "axis": {"values": [-20, 0, 20, 40, 60, 80], "labelExpr": "'' + datum.value", "title": "Angle (Degrees)", "labelPadding": 11, "labelFontSize": 16, "titleFontSize": 23, "titleX": -44, "titleY": 124, "titleAngle": 270, "titleAlign": "center", "titleBaseline": "middle"}},
                "y2": {"datum": -130.7}
              }
            },
            {
              "data": {"name": "angles"},
              "mark": {"type": "line", "strokeWidth": 1.4, "interpolate": "monotone"},
              "encoding": {
                "x": {
                  "field": "t", "type": "quantitative",
                  "scale": {"domain": [0, 5.3], "nice": false, "zero": false},
                  "axis": {"values": [0, 1, 2, 3, 4, 5], "title": null, "labelPadding": 12, "labelFontSize": 16}
                },
                "y": {
                  "field": "a", "type": "quantitative",
                  "scale": {"domain": [-20, 80], "nice": false, "zero": false},
                  "axis": {"values": [-20, 0, 20, 40, 60, 80], "labelExpr": "'' + datum.value", "title": "Angle (Degrees)", "labelPadding": 11, "labelFontSize": 16, "titleFontSize": 23, "titleX": -44, "titleY": 124, "titleAngle": 270, "titleAlign": "center", "titleBaseline": "middle"}
                },
                "color": {
                  "field": "s", "type": "nominal",
                  "scale": {"domain": ["Upper arm flexion", "Lower arm flexion", "Wrist flexion"], "range": ["#000000", "#2b2bff", "#ff2a2a"]},
                  "legend": {"orient": "none", "legendX": 270, "legendY": 3, "title": null, "symbolType": "stroke", "symbolSize": 650, "symbolStrokeWidth": 1.4, "labelFontSize": 16, "labelFont": "Liberation Sans", "labelColor": "#000000", "fillColor": "#ffffff", "strokeColor": "#4d4d4d", "padding": 4, "rowPadding": -4, "labelOffset": 2}
                },
                "strokeDash": {
                  "field": "s", "type": "nominal",
                  "scale": {"domain": ["Upper arm flexion", "Lower arm flexion", "Wrist flexion"], "range": [[1, 0], [6, 4], [5, 2.5, 1.5, 2.5]]},
                  "legend": {"orient": "none", "legendX": 270, "legendY": 3, "title": null, "symbolType": "stroke", "symbolSize": 650, "symbolStrokeWidth": 1.4, "labelFontSize": 16, "labelFont": "Liberation Sans", "labelColor": "#000000", "fillColor": "#ffffff", "strokeColor": "#4d4d4d", "padding": 4, "rowPadding": -4, "labelOffset": 2}
                }
              }
            }
          ]
        },
        {
          "width": 444,
          "height": 262,
          "data": {"name": "score"},
          "mark": {"type": "line", "interpolate": "step-after", "color": "#000000", "strokeWidth": 1.5},
          "encoding": {
            "x": {
              "field": "t", "type": "quantitative",
              "scale": {"domain": [0, 5.3], "nice": false, "zero": false},
              "axis": {"values": [0, 1, 2, 3, 4, 5], "title": "Time (Seconds)", "labelPadding": 14, "labelFontSize": 17, "titleFontSize": 23, "titleX": 244, "titleY": 41, "titleAlign": "center", "titleBaseline": "middle"}
            },
            "y": {
              "field": "score", "type": "quantitative",
              "scale": {"domain": [2.8, 5.2], "nice": false, "zero": false},
              "axis": {"values": [3, 4, 5], "title": "Score", "labelPadding": 10, "labelFontSize": 18, "titleFontSize": 23, "titleX": -47, "titleY": 132, "titleAngle": 270, "titleAlign": "center", "titleBaseline": "middle"}
            }
          }
        }
      ]
    },
    {
      "width": 333,
      "height": 574,
      "layer": [
        {
          "data": {"name": "cells"},
          "transform": [
            {"calculate": "(datum.ws-1)*2+datum.wt-1", "as": "c"},
            {"calculate": "(datum.ua-1)*3+datum.la-1", "as": "r"},
            {"calculate": "datum.c+1", "as": "c1"},
            {"calculate": "datum.r+1", "as": "r1"}
          ],
          "mark": {"type": "rect", "clip": true, "fill": "#ffffff", "stroke": "#d4d4d4", "strokeWidth": 1},
          "encoding": {
            "x": {"field": "c", "type": "quantitative", "scale": {"domain": [-4.74, 7.69], "nice": false, "zero": false}, "axis": null},
            "x2": {"field": "c1"},
            "y": {"field": "r", "type": "quantitative", "scale": {"domain": [-6.31, 18], "nice": false, "zero": false, "reverse": true}, "axis": null},
            "y2": {"field": "r1"}
          }
        },
        {
          "data": {"name": "cells"},
          "transform": [
            {"filter": "datum.la === 1 && datum.ws === 1 && datum.wt === 1"},
            {"calculate": "(datum.ua-1)*3", "as": "r0"},
            {"calculate": "datum.ua*3", "as": "r1"}
          ],
          "mark": {"type": "rect", "clip": true, "fill": "#dae6f4", "stroke": "#c9c9c9", "strokeWidth": 1},
          "encoding": {
            "x": {"datum": -4.74, "type": "quantitative", "scale": {"domain": [-4.74, 7.69], "nice": false, "zero": false}, "axis": null},
            "x2": {"datum": -2.24},
            "y": {"field": "r0", "type": "quantitative", "scale": {"domain": [-6.31, 18], "nice": false, "zero": false, "reverse": true}, "axis": null},
            "y2": {"field": "r1"}
          }
        },
        {
          "data": {"name": "cells"},
          "transform": [
            {"filter": "datum.ws === 1 && datum.wt === 1"},
            {"calculate": "(datum.ua-1)*3+datum.la-1", "as": "r"},
            {"calculate": "datum.r+1", "as": "r1"}
          ],
          "mark": {"type": "rect", "clip": true, "fill": "#ff8e8e", "stroke": "#f6c4c4", "strokeWidth": 1},
          "encoding": {
            "x": {"datum": -2.24, "type": "quantitative", "scale": {"domain": [-4.74, 7.69], "nice": false, "zero": false}, "axis": null},
            "x2": {"datum": 0},
            "y": {"field": "r", "type": "quantitative", "scale": {"domain": [-6.31, 18], "nice": false, "zero": false, "reverse": true}, "axis": null},
            "y2": {"field": "r1"}
          }
        },
        {
          "data": {"values": [{"label": "Wrist Score"}]},
          "mark": {"type": "rect", "clip": true, "fill": "#fde9a6", "stroke": "#d4d4d4", "strokeWidth": 1},
          "encoding": {
            "x": {"datum": 0, "type": "quantitative", "scale": {"domain": [-4.74, 7.69], "nice": false, "zero": false}, "axis": null},
            "x2": {"datum": 8},
            "y": {"datum": -6.19, "type": "quantitative", "scale": {"domain": [-6.31, 18], "nice": false, "zero": false, "reverse": true}, "axis": null},
            "y2": {"datum": -5.0}
          }
        },
        {
          "data": {"name": "cells"},
          "transform": [
            {"filter": "datum.ua === 1 && datum.la === 1 && datum.wt === 1"},
            {"calculate": "(datum.ws-1)*2", "as": "c0"},
            {"calculate": "datum.ws*2", "as": "c1"}
          ],
          "mark": {"type": "rect", "clip": true, "fill": "#fde9a6", "stroke": "#d4d4d4", "strokeWidth": 1},
          "encoding": {
            "x": {"field": "c0", "type": "quantitative", "scale": {"domain": [-4.74, 7.69], "nice": false, "zero": false}, "axis": null},
            "x2": {"field": "c1"},
            "y": {"datum": -5.0, "type": "quantitative", "scale": {"domain": [-6.31, 18], "nice": false, "zero": false, "reverse": true}, "axis": null},
            "y2": {"datum": -3.81}
          }
        },
        {
          "data": {"name": "cells"},
          "transform": [
            {"filter": "datum.ua === 1 && datum.la === 1 && datum.wt === 1"},
            {"calculate": "(datum.ws-1)*2", "as": "c0"},
            {"calculate": "datum.ws*2", "as": "c1"}
          ],
          "mark": {"type": "rect", "clip": true, "fill": "#c2ecfb", "stroke": "#d4d4d4", "strokeWidth": 1},
          "encoding": {
            "x": {"field": "c0", "type": "quantitative", "scale": {"domain": [-4.74, 7.69], "nice": false, "zero": false}, "axis": null},
            "x2": {"field": "c1"},
            "y": {"datum": -3.81, "type": "quantitative", "scale": {"domain": [-6.31, 18], "nice": false, "zero": false, "reverse": true}, "axis": null},
            "y2": {"datum": -1.27}
          }
        },
        {
          "data": {"name": "cells"},
          "transform": [
            {"filter": "datum.ua === 1 && datum.la === 1"},
            {"calculate": "(datum.ws-1)*2+datum.wt-1", "as": "c"},
            {"calculate": "datum.c+1", "as": "c1"}
          ],
          "mark": {"type": "rect", "clip": true, "fill": "#c2ecfb", "stroke": "#d4d4d4", "strokeWidth": 1},
          "encoding": {
            "x": {"field": "c", "type": "quantitative", "scale": {"domain": [-4.74, 7.69], "nice": false, "zero": false}, "axis": null},
            "x2": {"field": "c1"},
            "y": {"datum": -1.27, "type": "quantitative", "scale": {"domain": [-6.31, 18], "nice": false, "zero": false, "reverse": true}, "axis": null},
            "y2": {"datum": 0}
          }
        },
        {
          "data": {"values": [{"label": "Table A"}]},
          "mark": {"type": "rect", "clip": false, "fill": "#ffffff", "stroke": "#c9c9c9", "strokeWidth": 1},
          "encoding": {
            "x": {"datum": -4.74, "type": "quantitative", "scale": {"domain": [-4.74, 7.69], "nice": false, "zero": false}, "axis": null},
            "x2": {"datum": 0},
            "y": {"datum": -6.19, "type": "quantitative", "scale": {"domain": [-6.31, 18], "nice": false, "zero": false, "reverse": true}, "axis": null},
            "y2": {"datum": -3.81}
          }
        },
        {
          "data": {"values": [{"label": "Upper Arm"}]},
          "mark": {"type": "rect", "clip": false, "fill": "#dae6f4", "stroke": "#c9c9c9", "strokeWidth": 1},
          "encoding": {
            "x": {"datum": -4.74, "type": "quantitative", "scale": {"domain": [-4.74, 7.69], "nice": false, "zero": false}, "axis": null},
            "x2": {"datum": -2.24},
            "y": {"datum": -3.81, "type": "quantitative", "scale": {"domain": [-6.31, 18], "nice": false, "zero": false, "reverse": true}, "axis": null},
            "y2": {"datum": 0}
          }
        },
        {
          "data": {"values": [{"label": "Lower Arm"}]},
          "mark": {"type": "rect", "clip": false, "fill": "#ff8e8e", "stroke": "#c9c9c9", "strokeWidth": 1},
          "encoding": {
            "x": {"datum": -2.24, "type": "quantitative", "scale": {"domain": [-4.74, 7.69], "nice": false, "zero": false}, "axis": null},
            "x2": {"datum": 0},
            "y": {"datum": -3.81, "type": "quantitative", "scale": {"domain": [-6.31, 18], "nice": false, "zero": false, "reverse": true}, "axis": null},
            "y2": {"datum": 0}
          }
        },
        {
          "data": {"name": "cells"},
          "transform": [
            {"calculate": "(datum.ws-1)*2+datum.wt-0.5", "as": "cm"},
            {"calculate": "(datum.ua-1)*3+datum.la-0.5", "as": "rm"}
          ],
          "mark": {"type": "text", "clip": true, "font": "Noto Sans", "fontSize": 14, "color": "#3a3a3a"},
          "encoding": {
            "x": {"field": "cm", "type": "quantitative", "scale": {"domain": [-4.74, 7.69], "nice": false, "zero": false}, "axis": null},
            "y": {"field": "rm", "type": "quantitative", "scale": {"domain": [-6.31, 18], "nice": false, "zero": false, "reverse": true}, "axis": null},
            "text": {"field": "s", "type": "quantitative"}
          }
        },
        {
          "data": {"name": "cells"},
          "transform": [
            {"filter": "datum.la === 1 && datum.ws === 1 && datum.wt === 1"},
            {"calculate": "(datum.ua-1)*3+1.5", "as": "rm"}
          ],
          "mark": {"type": "text", "font": "Noto Sans", "fontSize": 17, "fontWeight": "bold", "color": "#333333"},
          "encoding": {
            "x": {"datum": -3.47, "type": "quantitative", "scale": {"domain": [-4.74, 7.69], "nice": false, "zero": false}, "axis": null},
            "y": {"field": "rm", "type": "quantitative", "scale": {"domain": [-6.31, 18], "nice": false, "zero": false, "reverse": true}, "axis": null},
            "text": {"field": "ua", "type": "quantitative"}
          }
        },
        {
          "data": {"name": "cells"},
          "transform": [
            {"filter": "datum.ws === 1 && datum.wt === 1"},
            {"calculate": "(datum.ua-1)*3+datum.la-0.5", "as": "rm"}
          ],
          "mark": {"type": "text", "font": "Noto Sans", "fontSize": 14, "color": "#3a3a3a"},
          "encoding": {
            "x": {"datum": -1.12, "type": "quantitative", "scale": {"domain": [-4.74, 7.69], "nice": false, "zero": false}, "axis": null},
            "y": {"field": "rm", "type": "quantitative", "scale": {"domain": [-6.31, 18], "nice": false, "zero": false, "reverse": true}, "axis": null},
            "text": {"field": "la", "type": "quantitative"}
          }
        },
        {
          "data": {"values": [{"label": "Wrist Score"}]},
          "mark": {"type": "text", "font": "Noto Sans", "fontSize": 16, "color": "#333333"},
          "encoding": {
            "x": {"datum": 4, "type": "quantitative", "scale": {"domain": [-4.74, 7.69], "nice": false, "zero": false}, "axis": null},
            "y": {"datum": -5.59, "type": "quantitative", "scale": {"domain": [-6.31, 18], "nice": false, "zero": false, "reverse": true}, "axis": null},
            "text": {"field": "label"}
          }
        },
        {
          "data": {"name": "cells"},
          "transform": [
            {"filter": "datum.ua === 1 && datum.la === 1 && datum.wt === 1"},
            {"calculate": "datum.ws*2-1", "as": "cm"}
          ],
          "mark": {"type": "text", "clip": true, "font": "Noto Sans", "fontSize": 15, "color": "#333333"},
          "encoding": {
            "x": {"field": "cm", "type": "quantitative", "scale": {"domain": [-4.74, 7.69], "nice": false, "zero": false}, "axis": null},
            "y": {"datum": -4.41, "type": "quantitative", "scale": {"domain": [-6.31, 18], "nice": false, "zero": false, "reverse": true}, "axis": null},
            "text": {"field": "ws", "type": "quantitative"}
          }
        },
        {
          "data": {"name": "cells"},
          "transform": [
            {"filter": "datum.ua === 1 && datum.la === 1 && datum.wt === 1"},
            {"calculate": "datum.ws*2-1", "as": "cm"}
          ],
          "mark": {"type": "text", "clip": true, "font": "Noto Sans", "fontSize": 15, "color": "#333333", "text": ["Wrist", "Twist"], "lineHeight": 24},
          "encoding": {
            "x": {"field": "cm", "type": "quantitative", "scale": {"domain": [-4.74, 7.69], "nice": false, "zero": false}, "axis": null},
            "y": {"datum": -3.05, "type": "quantitative", "scale": {"domain": [-6.31, 18], "nice": false, "zero": false, "reverse": true}, "axis": null}
          }
        },
        {
          "data": {"name": "cells"},
          "transform": [
            {"filter": "datum.ua === 1 && datum.la === 1"},
            {"calculate": "(datum.ws-1)*2+datum.wt-0.5", "as": "cm"}
          ],
          "mark": {"type": "text", "clip": true, "font": "Noto Sans", "fontSize": 14, "color": "#333333"},
          "encoding": {
            "x": {"field": "cm", "type": "quantitative", "scale": {"domain": [-4.74, 7.69], "nice": false, "zero": false}, "axis": null},
            "y": {"datum": -0.64, "type": "quantitative", "scale": {"domain": [-6.31, 18], "nice": false, "zero": false, "reverse": true}, "axis": null},
            "text": {"field": "wt", "type": "quantitative"}
          }
        },
        {
          "data": {"values": [{"label": "Table A"}]},
          "mark": {"type": "text", "font": "Noto Sans", "fontSize": 17, "color": "#333333"},
          "encoding": {
            "x": {"datum": -2.37, "type": "quantitative", "scale": {"domain": [-4.74, 7.69], "nice": false, "zero": false}, "axis": null},
            "y": {"datum": -5.07, "type": "quantitative", "scale": {"domain": [-6.31, 18], "nice": false, "zero": false, "reverse": true}, "axis": null},
            "text": {"field": "label"}
          }
        },
        {
          "data": {"values": [{"label": "Upper Arm"}]},
          "mark": {"type": "text", "font": "Noto Sans", "fontSize": 16, "color": "#333333", "text": ["Upper", "Arm"], "lineHeight": 27},
          "encoding": {
            "x": {"datum": -3.49, "type": "quantitative", "scale": {"domain": [-4.74, 7.69], "nice": false, "zero": false}, "axis": null},
            "y": {"datum": -2.52, "type": "quantitative", "scale": {"domain": [-6.31, 18], "nice": false, "zero": false, "reverse": true}, "axis": null}
          }
        },
        {
          "data": {"values": [{"label": "Lower Arm"}]},
          "mark": {"type": "text", "font": "Noto Sans", "fontSize": 16, "color": "#333333", "text": ["Lower", "Arm"], "lineHeight": 26},
          "encoding": {
            "x": {"datum": -1.12, "type": "quantitative", "scale": {"domain": [-4.74, 7.69], "nice": false, "zero": false}, "axis": null},
            "y": {"datum": -2.5, "type": "quantitative", "scale": {"domain": [-6.31, 18], "nice": false, "zero": false, "reverse": true}, "axis": null}
          }
        },
        {
          "data": {"name": "rowHits"},
          "transform": [
            {"calculate": "(datum.ua-1)*3+datum.la-1", "as": "r"},
            {"calculate": "datum.r+1", "as": "r1"}
          ],
          "mark": {"type": "rect", "clip": false, "filled": false, "stroke": "#ff0000", "strokeWidth": 2},
          "encoding": {
            "x": {"datum": -4.81, "type": "quantitative", "scale": {"domain": [-4.74, 7.69], "nice": false, "zero": false}, "axis": null},
            "x2": {"datum": 1},
            "y": {"field": "r", "type": "quantitative", "scale": {"domain": [-6.31, 18], "nice": false, "zero": false, "reverse": true}, "axis": null},
            "y2": {"field": "r1"}
          }
        },
        {
          "data": {"name": "cellHits"},
          "transform": [
            {"calculate": "(datum.ws-1)*2+datum.wt-1", "as": "c"},
            {"calculate": "(datum.ua-1)*3+datum.la-1", "as": "r"},
            {"calculate": "datum.c+1", "as": "c1"},
            {"calculate": "datum.r+1", "as": "r1"}
          ],
          "mark": {"type": "rect", "clip": false, "filled": false, "stroke": "#1c2e64", "strokeWidth": 2},
          "encoding": {
            "x": {"field": "c", "type": "quantitative", "scale": {"domain": [-4.74, 7.69], "nice": false, "zero": false}, "axis": null},
            "x2": {"field": "c1"},
            "y": {"field": "r", "type": "quantitative", "scale": {"domain": [-6.31, 18], "nice": false, "zero": false, "reverse": true}, "axis": null},
            "y2": {"field": "r1"}
          }
        },
        {
          "data": {"name": "links"},
          "transform": [{"filter": "datum.from === 'B'"}],
          "mark": {"type": "line", "clip": false, "stroke": "#1c2e64", "strokeWidth": 1.2, "interpolate": "catmull-rom"},
          "encoding": {
            "x": {"field": "u", "type": "quantitative", "scale": {"domain": [-4.74, 7.69], "nice": false, "zero": false}, "axis": null},
            "y": {"field": "v", "type": "quantitative", "scale": {"domain": [-6.31, 18], "nice": false, "zero": false, "reverse": true}, "axis": null},
            "detail": {"field": "link", "type": "nominal"},
            "order": {"field": "i", "type": "quantitative"}
          }
        },
        {
          "data": {"name": "links"},
          "transform": [{"filter": "datum.from === 'A'"}],
          "mark": {"type": "line", "clip": false, "stroke": "#ff2b2b", "strokeWidth": 1.1, "interpolate": "catmull-rom"},
          "encoding": {
            "x": {"field": "u", "type": "quantitative", "scale": {"domain": [-4.74, 7.69], "nice": false, "zero": false}, "axis": null},
            "y": {"field": "v", "type": "quantitative", "scale": {"domain": [-6.31, 18], "nice": false, "zero": false, "reverse": true}, "axis": null},
            "detail": {"field": "link", "type": "nominal"},
            "order": {"field": "i", "type": "quantitative"}
          }
        },
        {
          "data": {"name": "tips"},
          "transform": [{"filter": "datum.from === 'B'"}],
          "mark": {"type": "point", "clip": false, "shape": "triangle-down", "filled": true, "fill": "#1c2e64", "opacity": 1, "size": 110, "strokeWidth": 0},
          "encoding": {
            "x": {"field": "u", "type": "quantitative", "scale": {"domain": [-4.74, 7.69], "nice": false, "zero": false}, "axis": null},
            "y": {"field": "v", "type": "quantitative", "scale": {"domain": [-6.31, 18], "nice": false, "zero": false, "reverse": true}, "axis": null}
          }
        },
        {
          "data": {"name": "tips"},
          "transform": [{"filter": "datum.from === 'A'"}],
          "mark": {"type": "point", "clip": false, "shape": "triangle-right", "filled": true, "fill": "#ff0000", "opacity": 1, "size": 110, "strokeWidth": 0},
          "encoding": {
            "x": {"field": "u", "type": "quantitative", "scale": {"domain": [-4.74, 7.69], "nice": false, "zero": false}, "axis": null},
            "y": {"field": "v", "type": "quantitative", "scale": {"domain": [-6.31, 18], "nice": false, "zero": false, "reverse": true}, "axis": null}
          }
        }
      ]
    }
  ]
}
